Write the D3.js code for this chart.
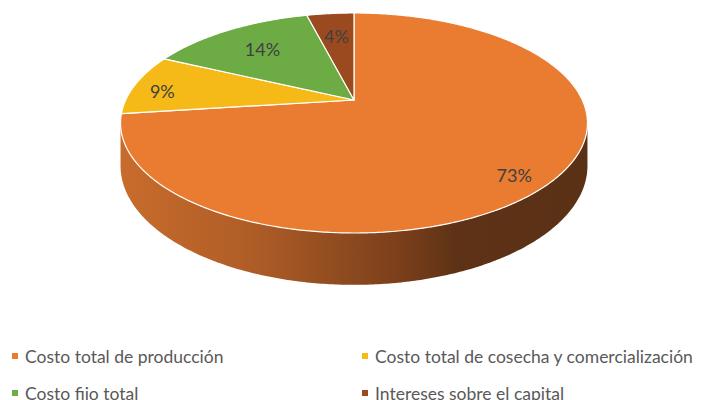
<html>
<head>
<meta charset="utf-8">
<style>
  body { margin: 0; background: #fff; }
  svg { display: block; }
  text { font-family: Lato, "Open Sans", sans-serif; }
</style>
</head>
<body>
<div id="chart"></div>
<script src="https://d3js.org/d3.v7.min.js"></script>
<script>
// data
const categories = ["Costo total de producción", "Costo total de cosecha y comercialización", "Costo fijo total", "Intereses sobre el capital"];
const values = [73, 9, 14, 4];
const colors = ["#EA7C31", "#F5BA18", "#6DAC45", "#9B4A1F"];

// label placement: fraction of radius and small angle nudge (degrees)
const labelRadius = [0.87, 0.86, 0.7, 0.7];
const labelNudge = [4, -3, 0, 0];

const width = 707, height = 400;

// perspective projection of the disc
const cx = 354, cy = 100, a = 228.3, b = 105.2, k = 0.209, depth = 41;
function proj(theta, r, h) {
  const u = r * Math.sin(theta), v = -r * Math.cos(theta);
  const d = 1 - k * v;
  return [cx + a * u / d, cy + (b * v + (h || 0)) / d];
}

const svg = d3.select("#chart").append("svg")
  .attr("width", width)
  .attr("height", height);

const defs = svg.append("defs");
const grad = defs.append("linearGradient")
  .attr("id", "sideGrad")
  .attr("gradientUnits", "userSpaceOnUse")
  .attr("x1", cx - 234).attr("x2", cx + 234)
  .attr("y1", 0).attr("y2", 0);
[[0, "#C86C2C"], [0.28, "#AF5D27"], [0.6, "#7A3F1A"], [0.72, "#5D3216"], [1, "#5B3116"]]
  .forEach(s => grad.append("stop").attr("offset", s[0]).attr("stop-color", s[1]));

const pie = d3.pie().sort(null).value(d => d)(values);
const line = d3.line();

function rim(a0, a1, h) {
  const n = Math.max(4, Math.ceil((a1 - a0) / 0.01));
  return d3.range(n + 1).map(i => proj(a0 + (a1 - a0) * i / n, 1, h));
}

// side wall (only near half is visible)
const s0 = Math.acos(-k), s1 = 2 * Math.PI - Math.acos(-k);
pie.forEach((p, i) => {
  const a0 = Math.max(p.startAngle, s0), a1 = Math.min(p.endAngle, s1);
  if (a1 <= a0) return;
  const top = rim(a0, a1, 0);
  const bot = rim(a0, a1, depth).reverse();
  svg.append("path")
    .attr("d", line(top.concat(bot)) + "Z")
    .attr("fill", i === 0 ? "url(#sideGrad)" : d3.color(colors[i]).darker(1));
});

// top face
svg.append("g").selectAll("path")
  .data(pie)
  .join("path")
  .attr("d", p => line([proj(0, 0)].concat(rim(p.startAngle, p.endAngle, 0))) + "Z")
  .attr("fill", (p, i) => colors[i])
  .attr("stroke", "#fff")
  .attr("stroke-width", 1.2)
  .attr("stroke-linejoin", "round");

// labels
svg.append("g").selectAll("text")
  .data(pie)
  .join("text")
  .attr("x", (p, i) => proj((p.startAngle + p.endAngle) / 2 + labelNudge[i] * Math.PI / 180, labelRadius[i])[0])
  .attr("y", (p, i) => proj((p.startAngle + p.endAngle) / 2 + labelNudge[i] * Math.PI / 180, labelRadius[i])[1])
  .attr("text-anchor", "middle")
  .attr("dominant-baseline", "central")
  .attr("font-size", 18)
  .attr("fill", "#404040")
  .text(p => p.data + "%");

// legend, two columns
const legX = d3.scalePoint().domain([0, 1]).range([12, 362]);
const legY = d3.scalePoint().domain([0, 1]).range([356, 393]);
const leg = svg.append("g").selectAll("g")
  .data(categories)
  .join("g")
  .attr("transform", (d, i) => `translate(${legX(i % 2)},${legY(Math.floor(i / 2))})`);
leg.append("rect")
  .attr("x", 0).attr("y", -3)
  .attr("width", 6).attr("height", 6)
  .attr("fill", (d, i) => colors[i]);
leg.append("text")
  .attr("x", 13)
  .attr("dominant-baseline", "central")
  .attr("font-size", 17.5)
  .attr("fill", "#595959")
  .text(d => d);
</script>
</body>
</html>
